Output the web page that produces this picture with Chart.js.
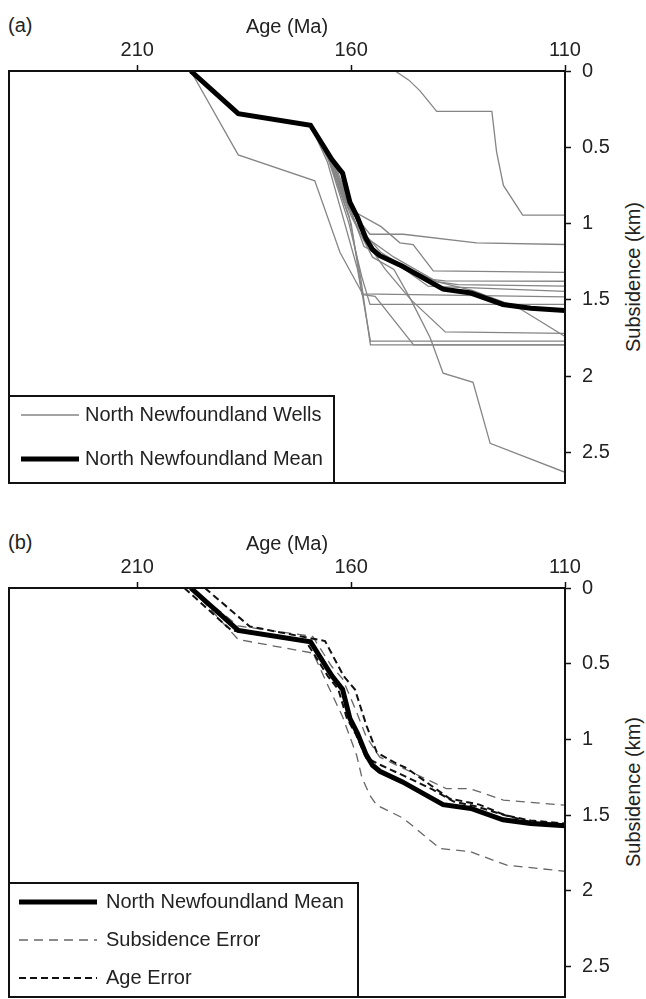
<!DOCTYPE html>
<html>
<head>
<meta charset="utf-8">
<script src="https://cdn.jsdelivr.net/npm/chart.js@4/dist/chart.umd.min.js"></script>
<style>
  body { margin: 0; background: #fff; overflow: hidden; }
  canvas { position: absolute; left: 0; }
  .lbl { position: absolute; font: 20px/24px "Liberation Sans", Arial, sans-serif; color: #222; white-space: nowrap; }
  .ytitle { transform: translate(-50%, -50%) rotate(-90deg); }
</style>
</head>
<body>
<div class="lbl" style="left:8px;top:13px">(a)</div>
<div class="lbl" style="left:8px;top:530px">(b)</div>
<div class="lbl ytitle" style="left:633px;top:277px">Subsidence (km)</div>
<div class="lbl ytitle" style="left:633px;top:792px">Subsidence (km)</div>
<canvas id="chartA" width="646" height="486" style="top:0"></canvas>
<canvas id="chartB" width="646" height="482" style="top:517px"></canvas>
<script>
// axis ranges and ticks
const ageMin = 110, ageMax = 240;
const ageTicks = [210, 160, 110];
const kmMax = 2.7;
const kmTicks = [0, 0.5, 1, 1.5, 2, 2.5];

// [age (Ma), subsidence (km)]
const meanCurve = [[197.5,0],[186.4,0.28],[169.5,0.355],[164.5,0.58],[162,0.67],[160.3,0.86],[158.5,0.96],[156.5,1.1],[155,1.17],[153.3,1.21],[148,1.28],[138.5,1.43],[132,1.455],[124.5,1.53],[118,1.555],[110,1.57]];

// individual wells, panel (a)
const wellA = [[149.7,0],[146.5,0.06],[143.9,0.13],[140,0.265],[127.1,0.265],[126,0.53],[124.4,0.75],[119.9,0.944],[110,0.944]];
const wellB = [[197.5,0],[186.4,0.55],[168.5,0.72],[162.6,1.19],[157.2,1.466],[154.4,1.477],[145.4,1.795],[110,1.795]];
const wellC = [[197.5,0],[186.4,0.28],[169.5,0.355],[165,0.55],[160.5,0.9],[155.6,1.07],[147.8,1.07],[130.7,1.126],[110,1.137]];
const wellD = [[197.5,0],[186.4,0.28],[169.5,0.355],[164.5,0.6],[160.7,0.9],[153,1.02],[148.6,1.126],[145.5,1.137],[140.8,1.31],[110,1.32]];
const wellE = [[197.5,0],[186.4,0.28],[169.5,0.355],[164,0.62],[159,1.0],[153,1.19],[143,1.36],[138,1.375],[110,1.378]];
const wellF = [[197.5,0],[186.4,0.28],[169.5,0.355],[165,0.58],[158,1.06],[150,1.22],[140,1.38],[135,1.4],[110,1.41]];
const wellG = [[197.5,0],[186.4,0.28],[169.5,0.355],[163,0.7],[154.5,1.2],[150,1.25],[142,1.41],[110,1.444]];
const wellH = [[197.5,0],[186.4,0.28],[169.5,0.355],[165.5,0.6],[158.5,1.3],[157.5,1.46],[110,1.48]];
const wellI = [[197.5,0],[186.4,0.28],[169.5,0.355],[166,0.52],[160.5,1.0],[157.5,1.35],[155.6,1.53],[110,1.53]];
const wellJ = [[197.5,0],[186.4,0.28],[169.5,0.355],[164,0.6],[157,1.1],[152,1.3],[146,1.5],[138,1.71],[110,1.72]];
const wellK = [[197.5,0],[186.4,0.28],[169.5,0.355],[166.5,0.48],[160,1.0],[157.5,1.45],[155.5,1.77],[110,1.77]];
const wellL = [[197.5,0],[186.4,0.28],[169.5,0.355],[166,0.5],[160.5,0.95],[157.8,1.35],[155.5,1.795],[110,1.795]];
const wellM = [[197.5,0],[186.4,0.28],[169.5,0.355],[165,0.6],[160,0.95],[155,1.22],[150,1.3],[146,1.5],[141.5,1.75],[138.5,1.98],[131.5,2.04],[127.5,2.44],[110,2.63]];
const wellN = [[197.5,0],[186.4,0.28],[169.5,0.355],[164,0.62],[157,1.15],[150,1.25],[140,1.38],[131.5,1.44],[121,1.55],[110,1.74]];
const wells = [wellA, wellB, wellC, wellD, wellE, wellF, wellG, wellH, wellI, wellJ, wellK, wellL, wellM, wellN];

// error envelopes, panel (b)
const subsErrUpper = [[197.5,0],[186.4,0.25],[169,0.32],[164.5,0.52],[162,0.6],[159,0.8],[156.5,0.98],[153.3,1.117],[137.7,1.325],[132.2,1.325],[124.4,1.4],[110,1.434]];
const subsErrLower = [[197.5,0],[186.4,0.34],[168.9,0.43],[165,0.67],[162,0.85],[158.7,1.106],[157.5,1.25],[155.6,1.37],[154,1.434],[147.8,1.52],[139.2,1.72],[132.2,1.74],[123.6,1.83],[110,1.87]];
const ageErrYoung = [[194.2,0],[183.7,0.254],[166.1,0.35],[161.8,0.58],[159.1,0.67],[156.4,0.91],[154,1.085],[150,1.15],[147,1.19],[137,1.39],[130,1.43],[124,1.5],[118,1.535],[110,1.555]];
const ageErrOld = [[199,0],[188,0.28],[170.5,0.355],[165.5,0.58],[163,0.67],[161,0.86],[159,0.96],[156.5,1.12],[153,1.17],[147,1.248],[141,1.33],[136,1.41],[131,1.44],[124,1.5],[118,1.545],[110,1.565]];

Chart.defaults.font.family = "'Liberation Sans', Arial, sans-serif";
Chart.defaults.font.size = 20;
Chart.defaults.font.lineHeight = 1.2;
Chart.defaults.color = '#222';

const pts = arr => arr.map(([x, y]) => ({x, y}));

// frame box + legend drawn inside the lower-left corner of the plot
const frameLegend = {
  id: 'frameLegend',
  afterDatasetsDraw(chart, args, o) {
    const {ctx, chartArea: a} = chart;
    ctx.save();
    ctx.strokeStyle = '#111';
    ctx.lineWidth = 2;
    ctx.strokeRect(a.left, a.top, a.right - a.left, a.bottom - a.top);
    const bx = a.left, by = a.bottom - o.height;
    ctx.fillStyle = '#fff';
    ctx.fillRect(bx, by, o.width, o.height);
    ctx.strokeRect(bx, by, o.width, o.height);
    ctx.font = '20px "Liberation Sans", Arial, sans-serif';
    ctx.textBaseline = 'middle';
    o.rows.forEach((r, i) => {
      const ds = chart.data.datasets[r];
      const y = by + o.firstRow + i * o.rowGap;
      ctx.beginPath();
      ctx.setLineDash(ds.borderDash || []);
      ctx.lineWidth = ds.borderWidth;
      ctx.strokeStyle = ds.borderColor;
      ctx.moveTo(bx + o.x0, y);
      ctx.lineTo(bx + o.x1, y);
      ctx.stroke();
      ctx.setLineDash([]);
      ctx.fillStyle = '#222';
      ctx.fillText(ds.label, bx + o.textX, y);
    });
    ctx.restore();
  }
};

function makeOptions(legendOpts, bottomPad) {
  return {
    responsive: false,
    animation: false,
    layout: { padding: { left: 9, top: 0, right: 0, bottom: bottomPad } },
    plugins: { legend: { display: false }, tooltip: { enabled: false }, frameLegend: legendOpts },
    elements: { point: { radius: 0 }, line: { tension: 0 } },
    scales: {
      x: {
        type: 'linear', position: 'top', reverse: true, min: ageMin, max: ageMax,
        afterBuildTicks: s => { s.ticks = ageTicks.map(v => ({ value: v })); },
        afterFit: s => { s.height = 71; s.paddingLeft = 0; s.paddingRight = 0; },
        title: { display: true, text: 'Age (Ma)', padding: { top: 15, bottom: 0 } },
        ticks: { padding: 3, maxRotation: 0, callback: v => String(v) },
        grid: { drawOnChartArea: false, tickLength: 6, tickColor: '#111', tickWidth: 1.5 },
        border: { color: '#111', width: 2 }
      },
      y: {
        type: 'linear', position: 'right', reverse: true, min: 0, max: kmMax,
        afterBuildTicks: s => { s.ticks = kmTicks.map(v => ({ value: v })); },
        afterFit: s => { s.width = 81; s.paddingTop = 0; s.paddingBottom = 0; },
        ticks: { padding: 11, callback: v => String(v) },
        grid: { drawOnChartArea: false, tickLength: 6, tickColor: '#111', tickWidth: 1.5 },
        border: { color: '#111', width: 2 }
      }
    }
  };
}

const wellSets = wells.map(w => ({
  label: 'North Newfoundland Wells', data: pts(w),
  borderColor: '#858585', borderWidth: 1.3, order: 1
}));

new Chart(document.getElementById('chartA'), {
  type: 'line',
  data: {
    datasets: [
      { label: 'North Newfoundland Mean', data: pts(meanCurve), borderColor: '#000', borderWidth: 5, order: 0 },
      ...wellSets
    ]
  },
  options: makeOptions({ width: 325, height: 87, firstRow: 19, rowGap: 44, x0: 12, x1: 70, textX: 76, rows: [1, 0] }, 3),
  plugins: [frameLegend]
});

new Chart(document.getElementById('chartB'), {
  type: 'line',
  data: {
    datasets: [
      { label: 'North Newfoundland Mean', data: pts(meanCurve), borderColor: '#000', borderWidth: 5, order: 0 },
      { label: 'Subsidence Error', data: pts(subsErrUpper), borderColor: '#666', borderWidth: 1.3, borderDash: [9, 6], order: 2 },
      { label: 'Age Error', data: pts(ageErrYoung), borderColor: '#111', borderWidth: 2, borderDash: [7, 4], order: 1 },
      { label: 'Subsidence Error', data: pts(subsErrLower), borderColor: '#666', borderWidth: 1.3, borderDash: [9, 6], order: 2 },
      { label: 'Age Error', data: pts(ageErrOld), borderColor: '#111', borderWidth: 2, borderDash: [7, 4], order: 1 }
    ]
  },
  options: makeOptions({ width: 349, height: 114, firstRow: 19, rowGap: 38, x0: 10, x1: 88, textX: 97, rows: [0, 1, 2] }, 2),
  plugins: [frameLegend]
});
</script>
</body>
</html>
